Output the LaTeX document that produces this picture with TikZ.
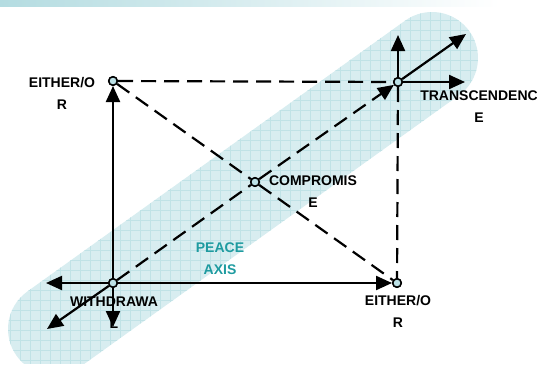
\documentclass[tikz,border=0pt]{standalone}
\usepackage{fontspec}
\setmainfont{Liberation Sans}
\usetikzlibrary{arrows.meta}
\definecolor{bandfill}{RGB}{216,237,240}
\definecolor{bandgrid}{RGB}{192,226,230}
\definecolor{dotfill}{RGB}{188,225,230}
\definecolor{topbar}{RGB}{180,220,225}
\definecolor{peace}{RGB}{30,155,160}
\begin{document}
\begin{tikzpicture}[x=1pt,y=-1pt,
  dotnode/.style={circle,draw=black,line width=1.5pt,fill=dotfill,minimum size=8.5pt,inner sep=0pt},
  lab/.style={font=\fontsize{14}{22}\selectfont\bfseries,align=center,inner sep=0pt},
  solidarrow/.style={line width=2.2pt,-{Triangle[length=16pt,width=14pt]}},
  dashline/.style={line width=2.2pt,dash pattern=on 15pt off 8pt},
]
\useasboundingbox (0,0) rectangle (537,364);
% top gradient bar
\shade[left color=topbar,right color=white] (0,0) rectangle (500,6);
% peace axis band
\def\bandpath{(27.2,291.6) -- (405.2,20.6) arc[start angle=-125.64, end angle=54.36, radius=46] -- (80.8,366.4) arc[start angle=54.36, end angle=234.36, radius=46] -- cycle}
\begin{scope}
  \clip \bandpath;
  \fill[bandfill] (0,0) rectangle (537,364);
  \foreach \gx in {0,10,...,540} {\draw[bandgrid,line width=0.7pt] (\gx,0) -- (\gx,364);}
  \foreach \gy in {0,10,...,370} {\draw[bandgrid,line width=0.7pt] (0,\gy) -- (537,\gy);}
\end{scope}
% points
\node[dotnode] (A) at (113,81) {};
\node[dotnode] (T) at (398,82) {};
\node[dotnode] (C) at (255,182) {};
\node[dotnode] (W) at (113,283) {};
\node[dotnode] (B) at (397,283) {};
% free ends
\coordinate (WL) at (46,283);
\coordinate (WD) at (113,327);
\coordinate (WDL) at (47,329);
\coordinate (TU) at (398,35);
\coordinate (TR) at (465,82);
\coordinate (TUR) at (466,34);
% dashed connectors
\draw[dashline] (A) -- (T);
\draw[dashline] (T) -- (B);
\draw[dashline] (A) -- (C);
\draw[dashline] (C) -- (B);
\draw[dashline] (W) -- (C);
\draw[dashline,-{Triangle[length=16pt,width=14pt]}] (C) -- (T);
% solid arrows
\draw[solidarrow] (W) -- (A);
\draw[solidarrow] (W) -- (B);
\draw[solidarrow] (W) -- (WL);
\draw[solidarrow] (W) -- (WD);
\draw[solidarrow] (W) -- (WDL);
\draw[solidarrow] (T) -- (TU);
\draw[solidarrow] (T) -- (TR);
\draw[solidarrow] (T) -- (TUR);
% redraw points on top
\node[dotnode] at (A) {};
\node[dotnode] at (T) {};
\node[dotnode] at (C) {};
\node[dotnode] at (W) {};
\node[dotnode] at (B) {};
% labels
\node[lab] (LA) at (62,93) {EITHER/O\\R};
\node[lab] (LT) at (479,107) {TRANSCENDENC\\E};
\node[lab] (LC) at (313,192) {COMPROMIS\\E};
\node[lab] (LW) at (114,313) {WITHDRAWA\\L};
\node[lab] (LB) at (398,311) {EITHER/O\\R};
\node[lab,text=peace] (LP) at (220,259) {PEACE\\AXIS};
\end{tikzpicture}
\end{document}
